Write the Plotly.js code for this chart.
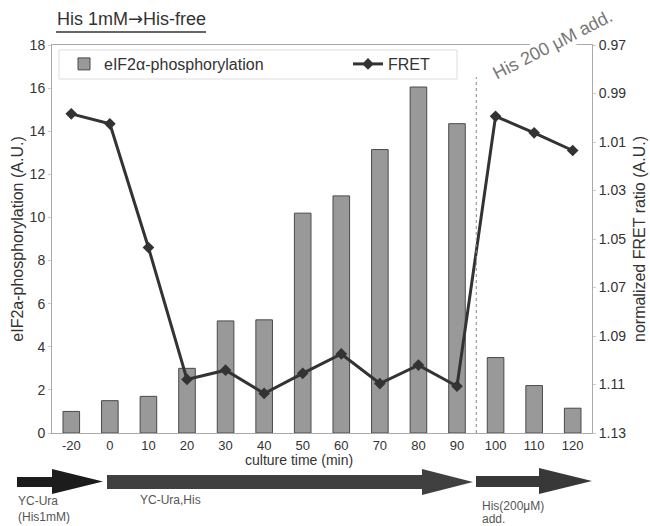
<!DOCTYPE html>
<html>
<head>
<meta charset="utf-8">
<script src="https://cdn.plot.ly/plotly-3.0.1.min.js"></script>
<style>html,body{margin:0;padding:0;background:#fff;}#chart{width:650px;height:526px;}</style>
</head>
<body>
<div id="chart"></div>
<script>
// ---- data ----
const timeLabels = ["-20","0","10","20","30","40","50","60","70","80","90","100","110","120"];
const phosphorylation = [1.0, 1.5, 1.7, 3.0, 5.2, 5.25, 10.2, 11.0, 13.15, 16.05, 14.35, 3.5, 2.2, 1.15];
const fretRatio = [0.9984, 1.0025, 1.0535, 1.1079, 1.1041, 1.1137, 1.1054, 1.0974, 1.1096, 1.102, 1.1107, 0.9994, 1.0062, 1.0135];
const seriesNames = ["eIF2\u03b1-phosphorylation", "FRET"];

// ---- layout helpers (pixel -> paper) ----
const L = 52, R = 592, T = 45, B = 433;
const px = x => (x - L) / (R - L);
const py = y => (B - y) / (B - T);
function arrowPath(x0, xh, xt, yb0, yb1, yh0, yh1) {
  const ym = (yh0 + yh1) / 2;
  return `M ${px(x0)},${py(yb0)} L ${px(xh)},${py(yb0)} L ${px(xh)},${py(yh0)} L ${px(xt)},${py(ym)} L ${px(xh)},${py(yh1)} L ${px(xh)},${py(yb1)} L ${px(x0)},${py(yb1)} Z`;
}
const FONT = 'Liberation Sans, Arial, sans-serif';

const traces = [
  {
    type: 'bar', name: seriesNames[0], x: timeLabels, y: phosphorylation,
    width: 0.43,
    marker: {color: '#999999', line: {color: '#4a4a4a', width: 1}},
    yaxis: 'y', legend: 'legend'
  },
  {
    type: 'scatter', mode: 'lines+markers', name: seriesNames[1], x: timeLabels, y: fretRatio,
    line: {color: '#333333', width: 3},
    marker: {symbol: 'diamond', size: 9, color: '#333333'},
    yaxis: 'y2', legend: 'legend2'
  }
];

const axisFont = {family: FONT, size: 14, color: '#333'};
const legendBase = {
  orientation: 'h', xanchor: 'left', yanchor: 'top',
  bgcolor: 'rgba(0,0,0,0)', borderwidth: 0,
  font: {family: FONT, size: 16, color: '#333'}
};

const layout = {
  width: 650, height: 526,
  margin: {l: L, r: 650 - R, t: T, b: 526 - B, pad: 0},
  paper_bgcolor: '#fff', plot_bgcolor: '#fff',
  font: {family: FONT, color: '#333'},
  showlegend: true,
  title: {
    text: 'His 1mM<span style="font-family:DejaVu Sans">\u2192</span>His-free',
    font: {size: 18, color: '#333', family: FONT},
    x: 57 / 650, xanchor: 'left', xref: 'container',
    y: 1 - 19 / 526, yanchor: 'middle', yref: 'container'
  },
  xaxis: {
    type: 'category', range: [-0.5, 13.5],
    showline: true, linecolor: '#aaa', linewidth: 1, mirror: true,
    ticks: '', showgrid: false, zeroline: false,
    tickfont: {family: FONT, size: 13, color: '#333'}
  },
  yaxis: {
    range: [0, 18], dtick: 2, tick0: 0,
    showline: true, linecolor: '#aaa', linewidth: 1,
    ticks: 'outside', ticklen: 3, tickcolor: '#ccc',
    showgrid: false, zeroline: false,
    tickfont: axisFont,
    title: {text: 'eIF2a-phosphorylation (A.U.)', font: {size: 16, color: '#333'}, standoff: 2}
  },
  yaxis2: {
    overlaying: 'y', side: 'right',
    range: [1.13, 0.97], tick0: 0.97, dtick: 0.02, tickformat: '.2f',
    showline: true, linecolor: '#aaa', linewidth: 1,
    ticks: 'outside', ticklen: 3, tickcolor: '#ccc',
    showgrid: false, zeroline: false,
    tickfont: axisFont,
    title: {text: 'normalized FRET ratio (A.U.)', font: {size: 16, color: '#333'}, standoff: 8}
  },
  legend: Object.assign({}, legendBase, {x: px(64), y: py(47)}),
  legend2: Object.assign({}, legendBase, {x: px(348), y: py(47)}),
  shapes: [
    // legend frame
    {type: 'rect', xref: 'paper', yref: 'paper', x0: px(59), x1: px(457), y0: py(79), y1: py(50),
     fillcolor: '#fff', line: {color: '#ddd', width: 1}, layer: 'below'},
    // His addition marker
    {type: 'line', xref: 'x', yref: 'paper', x0: 10.5, x1: 10.5, y0: 0, y1: py(77),
     line: {color: '#888', width: 1, dash: 'dot'}},
    // title underline
    {type: 'line', xref: 'paper', yref: 'paper', x0: px(56), x1: px(206), y0: py(32), y1: py(32),
     line: {color: '#333', width: 1.5}},
    // medium arrows
    {type: 'path', xref: 'paper', yref: 'paper', path: arrowPath(17, 52, 103, 477, 487, 469, 494),
     fillcolor: '#1c1c1c', line: {width: 0}},
    {type: 'path', xref: 'paper', yref: 'paper', path: arrowPath(107, 422, 473, 475, 489, 469, 495),
     fillcolor: '#404040', line: {width: 0}},
    {type: 'path', xref: 'paper', yref: 'paper', path: arrowPath(476, 539, 592, 476, 487, 468, 494),
     fillcolor: '#383838', line: {width: 0}}
  ],
  annotations: [
    {text: 'culture time (min)', xref: 'paper', yref: 'paper', x: px(299), y: py(460),
     xanchor: 'center', yanchor: 'middle', showarrow: false, font: {size: 14, color: '#333'}},
    {text: 'His 200 \u03bcM add.', xref: 'paper', yref: 'paper', x: px(552), y: py(45),
     xanchor: 'center', yanchor: 'middle', showarrow: false, textangle: -27,
     bgcolor: '#fff', borderpad: 0, font: {size: 18, color: '#777'}},
    {text: 'YC-Ura', xref: 'paper', yref: 'paper', x: px(16), y: py(501),
     xanchor: 'left', yanchor: 'middle', showarrow: false, font: {size: 12, color: '#555'}},
    {text: '(His1mM)', xref: 'paper', yref: 'paper', x: px(16), y: py(517),
     xanchor: 'left', yanchor: 'middle', showarrow: false, font: {size: 12, color: '#555'}},
    {text: 'YC-Ura,His', xref: 'paper', yref: 'paper', x: px(138), y: py(500),
     xanchor: 'left', yanchor: 'middle', showarrow: false, font: {size: 12, color: '#555'}},
    {text: 'His(200\u03bcM)', xref: 'paper', yref: 'paper', x: px(480), y: py(506),
     xanchor: 'left', yanchor: 'middle', showarrow: false, font: {size: 12, color: '#555'}},
    {text: 'add.', xref: 'paper', yref: 'paper', x: px(480), y: py(519),
     xanchor: 'left', yanchor: 'middle', showarrow: false, font: {size: 12, color: '#555'}}
  ]
};

Plotly.newPlot('chart', traces, layout, {displayModeBar: false, staticPlot: true});
</script>
</body>
</html>
